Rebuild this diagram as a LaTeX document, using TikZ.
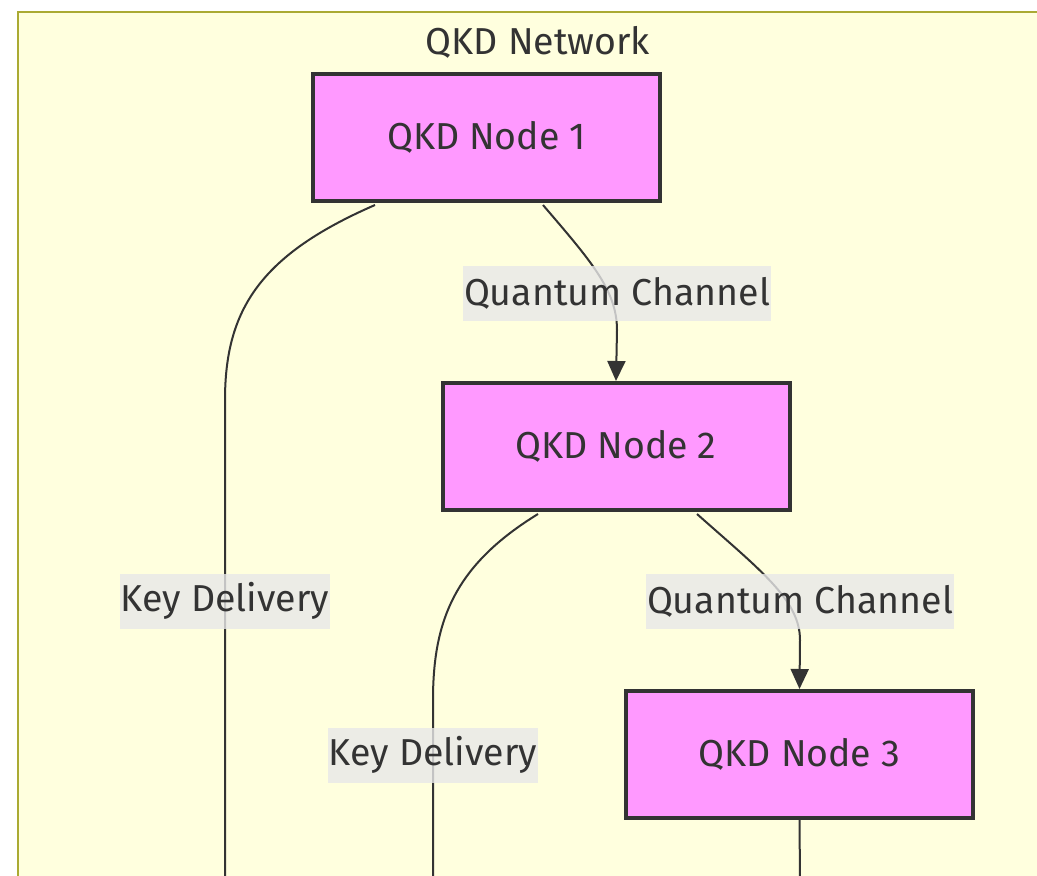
\documentclass[tikz,border=0pt]{standalone}
\usepackage{fontspec}
\setmainfont{Fira Sans}
\usetikzlibrary{arrows.meta,calc}
\definecolor{clusterfill}{HTML}{FFFFDE}
\definecolor{clusterline}{HTML}{AAAA33}
\definecolor{nodefill}{HTML}{FF99FF}
\definecolor{ink}{HTML}{333333}
\definecolor{labelbg}{HTML}{E8E8E8}
\tikzset{
  qkd/.style={draw=ink, line width=4pt, fill=nodefill, minimum width=347pt, minimum height=127pt, inner sep=0pt, font=\fontsize{37.5}{44}\selectfont, text=ink},
  link/.style={draw=ink, line width=2pt},
  tip/.style={-{Triangle[length=20pt,width=18pt]}},
  elabel/.style={fill=labelbg, fill opacity=0.8, text opacity=1, text=ink, inner xsep=1pt, inner ysep=0pt, minimum height=55pt, font=\fontsize{37.5}{44}\selectfont},
  title/.style={text=ink, font=\fontsize{37.5}{44}\selectfont}
}
\begin{document}
\begin{tikzpicture}[x=1pt,y=-1pt]
\useasboundingbox (0,0) rectangle (1037,876);
\clip (0,0) rectangle (1037,876);
\fill[white] (0,0) rectangle (1037,876);
\draw[fill=clusterfill, draw=clusterline, line width=2pt] (18,12) rectangle (1060,900);
\node[title] (ttl) at (538,42) {QKD Network};
\node[qkd] (n1) at (486.5,137.5) {QKD Node 1};
\node[qkd] (n2) at (616,446.5) {QKD Node 2};
\node[qkd] (n3) at (799.5,754.5) {QKD Node 3};
\coordinate (e1) at (225,880);
\coordinate (e2) at (433,880);
\coordinate (e3) at (800,880);
% Quantum channel 1 -> 2
\draw[link,tip] ($(n1.south)+(56.5,2)$) .. controls (590,260) and (617,290) .. (617,330) -- (n2.north);
% Quantum channel 2 -> 3
\draw[link,tip] ($(n2.south)+(81,2)$) .. controls (760,570) and (800,600) .. (800,640) -- (n3.north);
% Key delivery from node 1
\draw[link] ($(n1.south)+(-111.5,2)$) .. controls (260,255) and (225,310) .. (225,400) -- (e1);
% Key delivery from node 2
\draw[link] ($(n2.south)+(-78,2)$) .. controls (455,565) and (433,620) .. (433,700) -- (e2);
% Node 3 downward
\draw[link] (n3.south) -- (e3);
\node[elabel] (l1) at (617,293) {Quantum Channel};
\node[elabel] (l2) at (800,601) {Quantum Channel};
\node[elabel] (l3) at (225,601) {Key Delivery};
\node[elabel] (l4) at (433,755) {Key Delivery};
\end{tikzpicture}
\end{document}
